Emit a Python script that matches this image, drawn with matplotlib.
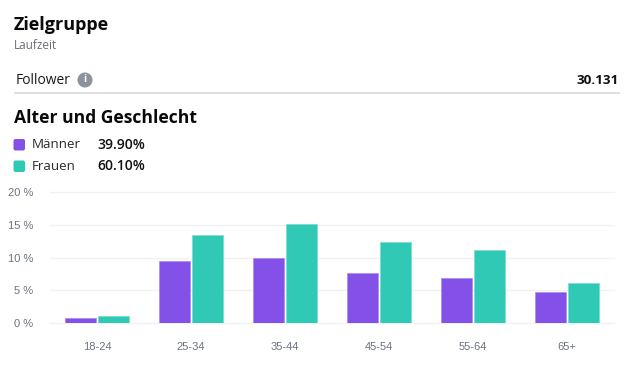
import numpy as np
import matplotlib
matplotlib.use('Agg')
import matplotlib.pyplot as plt
from matplotlib.patches import Circle, FancyBboxPatch

age_groups = ['18-24', '25-34', '35-44', '45-54', '55-64', '65+']
men = [0.7, 9.5, 10.0, 7.6, 6.8, 4.7]
women = [1.1, 13.5, 15.2, 12.4, 11.2, 6.1]
y_ticks = [0, 5, 10, 15, 20]

purple = '#8350e8'
teal = '#30c9b5'

W, H = 635, 367
fig = plt.figure(figsize=(W / 100, H / 100), dpi=100, facecolor='white')

# header area, drawn in pixel coordinates
bg = fig.add_axes([0, 0, 1, 1])
bg.set_xlim(0, W)
bg.set_ylim(H, 0)
bg.axis('off')

bg.text(14, 24.5, 'Zielgruppe', family='Open Sans', fontsize=13, weight='bold', color='#0a0a0a', va='center')
bg.text(14, 45.5, 'Laufzeit', family='Open Sans', fontsize=8.5, color='#6b6f76', va='center')
bg.text(16, 80.5, 'Follower', family='Open Sans', fontsize=10, weight='medium', color='#1a1a1a', va='center')
bg.add_patch(Circle((85, 80), 7.5, color='#8d92a0', lw=0))
bg.text(85, 80, 'i', family='Open Sans', fontsize=7.5, weight='bold', color='white', ha='center', va='center')
bg.text(619, 80.5, '30.131', family='Open Sans', fontsize=9.7, weight='bold', color='#111111', ha='right', va='center')
bg.plot([15, 619], [93, 93], color='#d9d9d9', lw=1.2)
bg.text(14, 118, 'Alter und Geschlecht', family='Open Sans', fontsize=12.6, weight='bold', color='#0a0a0a', va='center')

for y, col, name, share in [(144.5, purple, 'Männer', '39.90%'),
                            (166, teal, 'Frauen', '60.10%')]:
    bg.add_patch(FancyBboxPatch((13.5, y - 5.5), 11.5, 11.5, boxstyle='round,pad=0,rounding_size=2', color=col, lw=0))
    bg.text(32, y + 0.5, name, family='Open Sans', fontsize=9.6, color='#2a2a2a', va='center')
    bg.text(145, y + 0.5, share, family='Open Sans', fontsize=10, weight='semibold', color='#111111', ha='right', va='center')

# bar chart
ax = fig.add_axes([50 / W, (H - 322.7) / H, (614 - 50) / W, (322.7 - 192.3) / H])
x = np.arange(len(age_groups))
ax.bar(x - 0.175, men, 0.335, color=purple, edgecolor='#a98bf0', linewidth=0.5, zorder=3)
ax.bar(x + 0.175, women, 0.335, color=teal, edgecolor='#74dccd', linewidth=0.5, zorder=3)

ax.set_xlim(-0.5, 5.5)
ax.set_ylim(0, 20)
ax.set_yticks(y_ticks)
ax.set_yticklabels([f'{v} %' for v in y_ticks])
ax.set_xticks(x)
ax.set_xticklabels(age_groups)
ax.tick_params(length=0, labelsize=8, labelcolor='#6b7280')
ax.tick_params(axis='x', pad=14)
ax.tick_params(axis='y', pad=12)
for lab in ax.get_xticklabels() + ax.get_yticklabels():
    lab.set_family('Liberation Sans')
ax.grid(axis='y', color='#f0f1f3', lw=1, zorder=0)
ax.set_axisbelow(True)
ax.patch.set_alpha(0)
for s in ax.spines.values():
    s.set_visible(False)
for gl in ax.get_ygridlines():
    gl.set_clip_on(False)

fig.savefig('out.png', dpi=100)
